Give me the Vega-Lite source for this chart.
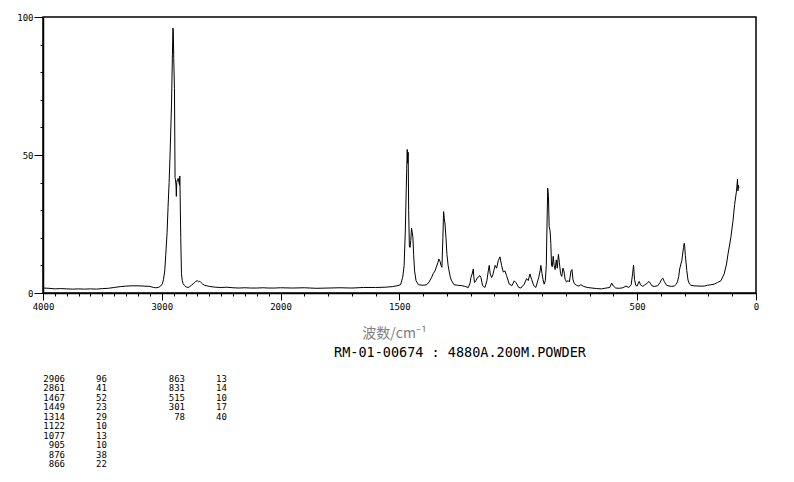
{
  "$schema": "https://vega.github.io/schema/vega-lite/v6.json",
  "padding": {"left": 15, "top": 12, "right": 5, "bottom": 5},
  "background": "white",
  "config": {
    "font": "DejaVu Sans Mono",
    "axis": {"domainColor": "black", "tickColor": "black", "labelColor": "black", "labelFont": "DejaVu Sans Mono", "labelFontSize": 9, "grid": false, "domainWidth": 1.5, "tickWidth": 1}
  },
  "spacing": 4,
  "vconcat": [
    {
      "width": 713,
      "height": 276,
      "view": {"stroke": "black", "strokeWidth": 1.5},
      "data": {"values": [
        {"wavenumber": 4000, "intensity": 1.8}, {"wavenumber": 3950, "intensity": 1.7}, {"wavenumber": 3900, "intensity": 1.5}, {"wavenumber": 3850, "intensity": 1.6},
        {"wavenumber": 3800, "intensity": 1.5}, {"wavenumber": 3750, "intensity": 1.4}, {"wavenumber": 3700, "intensity": 1.5}, {"wavenumber": 3650, "intensity": 1.4},
        {"wavenumber": 3600, "intensity": 1.5}, {"wavenumber": 3550, "intensity": 1.4}, {"wavenumber": 3500, "intensity": 1.6}, {"wavenumber": 3450, "intensity": 1.7},
        {"wavenumber": 3400, "intensity": 2.0}, {"wavenumber": 3350, "intensity": 2.3}, {"wavenumber": 3300, "intensity": 2.5}, {"wavenumber": 3250, "intensity": 2.6},
        {"wavenumber": 3200, "intensity": 2.6}, {"wavenumber": 3150, "intensity": 2.5}, {"wavenumber": 3100, "intensity": 2.4}, {"wavenumber": 3070, "intensity": 2.0},
        {"wavenumber": 3050, "intensity": 1.9}, {"wavenumber": 3030, "intensity": 2.0}, {"wavenumber": 3010, "intensity": 2.5}, {"wavenumber": 2995, "intensity": 3.3},
        {"wavenumber": 2985, "intensity": 5}, {"wavenumber": 2975, "intensity": 8}, {"wavenumber": 2966, "intensity": 14}, {"wavenumber": 2955, "intensity": 22},
        {"wavenumber": 2947, "intensity": 31}, {"wavenumber": 2938, "intensity": 40}, {"wavenumber": 2930, "intensity": 50}, {"wavenumber": 2918, "intensity": 68},
        {"wavenumber": 2910, "intensity": 86.5}, {"wavenumber": 2906, "intensity": 96}, {"wavenumber": 2903, "intensity": 95}, {"wavenumber": 2899, "intensity": 85},
        {"wavenumber": 2893, "intensity": 74}, {"wavenumber": 2888, "intensity": 41.8}, {"wavenumber": 2884, "intensity": 41}, {"wavenumber": 2880, "intensity": 39},
        {"wavenumber": 2877, "intensity": 35}, {"wavenumber": 2874, "intensity": 40}, {"wavenumber": 2868, "intensity": 41}, {"wavenumber": 2861, "intensity": 41.5},
        {"wavenumber": 2855, "intensity": 40}, {"wavenumber": 2850, "intensity": 39}, {"wavenumber": 2848, "intensity": 42.4}, {"wavenumber": 2846, "intensity": 38},
        {"wavenumber": 2840, "intensity": 20}, {"wavenumber": 2834, "intensity": 7}, {"wavenumber": 2827, "intensity": 4.5}, {"wavenumber": 2820, "intensity": 3.4},
        {"wavenumber": 2810, "intensity": 2.8}, {"wavenumber": 2795, "intensity": 2.2}, {"wavenumber": 2780, "intensity": 2.0}, {"wavenumber": 2765, "intensity": 2.3},
        {"wavenumber": 2750, "intensity": 2.8}, {"wavenumber": 2730, "intensity": 3.5}, {"wavenumber": 2715, "intensity": 4.2}, {"wavenumber": 2700, "intensity": 4.5},
        {"wavenumber": 2690, "intensity": 4.0}, {"wavenumber": 2680, "intensity": 4.3}, {"wavenumber": 2670, "intensity": 3.8}, {"wavenumber": 2657, "intensity": 3.3},
        {"wavenumber": 2640, "intensity": 2.8}, {"wavenumber": 2620, "intensity": 2.6}, {"wavenumber": 2600, "intensity": 2.4}, {"wavenumber": 2550, "intensity": 2.1},
        {"wavenumber": 2500, "intensity": 2.0}, {"wavenumber": 2450, "intensity": 2.1}, {"wavenumber": 2400, "intensity": 1.9}, {"wavenumber": 2350, "intensity": 1.8},
        {"wavenumber": 2300, "intensity": 1.9}, {"wavenumber": 2250, "intensity": 1.8}, {"wavenumber": 2200, "intensity": 1.8}, {"wavenumber": 2150, "intensity": 1.9},
        {"wavenumber": 2100, "intensity": 1.8}, {"wavenumber": 2050, "intensity": 1.8}, {"wavenumber": 2000, "intensity": 1.9}, {"wavenumber": 1950, "intensity": 1.8},
        {"wavenumber": 1900, "intensity": 1.9}, {"wavenumber": 1850, "intensity": 1.7}, {"wavenumber": 1800, "intensity": 1.8}, {"wavenumber": 1750, "intensity": 1.9},
        {"wavenumber": 1700, "intensity": 1.8}, {"wavenumber": 1650, "intensity": 2.0}, {"wavenumber": 1600, "intensity": 2.0}, {"wavenumber": 1560, "intensity": 2.1},
        {"wavenumber": 1530, "intensity": 2.3}, {"wavenumber": 1510, "intensity": 2.6}, {"wavenumber": 1495, "intensity": 3.0}, {"wavenumber": 1486, "intensity": 5.7},
        {"wavenumber": 1480, "intensity": 10}, {"wavenumber": 1475, "intensity": 22.5}, {"wavenumber": 1471, "intensity": 38}, {"wavenumber": 1469, "intensity": 45},
        {"wavenumber": 1467, "intensity": 52}, {"wavenumber": 1465, "intensity": 47}, {"wavenumber": 1463, "intensity": 51}, {"wavenumber": 1461, "intensity": 30},
        {"wavenumber": 1458, "intensity": 17}, {"wavenumber": 1455, "intensity": 16.5}, {"wavenumber": 1452, "intensity": 19}, {"wavenumber": 1449, "intensity": 23.5},
        {"wavenumber": 1446, "intensity": 22}, {"wavenumber": 1443, "intensity": 20}, {"wavenumber": 1440, "intensity": 14}, {"wavenumber": 1436, "intensity": 8},
        {"wavenumber": 1430, "intensity": 4.5}, {"wavenumber": 1420, "intensity": 3}, {"wavenumber": 1400, "intensity": 2.8}, {"wavenumber": 1385, "intensity": 3},
        {"wavenumber": 1375, "intensity": 4}, {"wavenumber": 1365, "intensity": 5.5}, {"wavenumber": 1358, "intensity": 7}, {"wavenumber": 1350, "intensity": 8},
        {"wavenumber": 1345, "intensity": 9.3}, {"wavenumber": 1338, "intensity": 11}, {"wavenumber": 1334, "intensity": 12.3}, {"wavenumber": 1329, "intensity": 11.5},
        {"wavenumber": 1325, "intensity": 10}, {"wavenumber": 1321, "intensity": 9.3}, {"wavenumber": 1317, "intensity": 20}, {"wavenumber": 1314, "intensity": 29.5},
        {"wavenumber": 1311, "intensity": 27}, {"wavenumber": 1308, "intensity": 25}, {"wavenumber": 1304, "intensity": 20}, {"wavenumber": 1300, "intensity": 14},
        {"wavenumber": 1295, "intensity": 10}, {"wavenumber": 1291, "intensity": 8}, {"wavenumber": 1285, "intensity": 5.5}, {"wavenumber": 1280, "intensity": 4.4},
        {"wavenumber": 1270, "intensity": 3}, {"wavenumber": 1255, "intensity": 2.8}, {"wavenumber": 1240, "intensity": 2.7}, {"wavenumber": 1225, "intensity": 2.4},
        {"wavenumber": 1210, "intensity": 2}, {"wavenumber": 1203, "intensity": 3.5}, {"wavenumber": 1199, "intensity": 5.6}, {"wavenumber": 1194, "intensity": 6.9},
        {"wavenumber": 1189, "intensity": 8.7}, {"wavenumber": 1187, "intensity": 6}, {"wavenumber": 1184, "intensity": 3.8}, {"wavenumber": 1178, "intensity": 4.5},
        {"wavenumber": 1171, "intensity": 5.6}, {"wavenumber": 1165, "intensity": 6}, {"wavenumber": 1161, "intensity": 6.3}, {"wavenumber": 1157, "intensity": 5.6},
        {"wavenumber": 1150, "intensity": 2.7}, {"wavenumber": 1140, "intensity": 2}, {"wavenumber": 1132, "intensity": 4.4}, {"wavenumber": 1126, "intensity": 8},
        {"wavenumber": 1122, "intensity": 10}, {"wavenumber": 1118, "intensity": 6.9}, {"wavenumber": 1112, "intensity": 5.6}, {"wavenumber": 1107, "intensity": 6.5},
        {"wavenumber": 1103, "intensity": 8}, {"wavenumber": 1097, "intensity": 10}, {"wavenumber": 1091, "intensity": 9}, {"wavenumber": 1084, "intensity": 11.7},
        {"wavenumber": 1077, "intensity": 13.1}, {"wavenumber": 1070, "intensity": 10}, {"wavenumber": 1063, "intensity": 7.6}, {"wavenumber": 1056, "intensity": 8},
        {"wavenumber": 1049, "intensity": 6.3}, {"wavenumber": 1038, "intensity": 3.2}, {"wavenumber": 1026, "intensity": 2.7}, {"wavenumber": 1017, "intensity": 4.4},
        {"wavenumber": 1010, "intensity": 3.8}, {"wavenumber": 998, "intensity": 2}, {"wavenumber": 989, "intensity": 1.8}, {"wavenumber": 975, "intensity": 3.2},
        {"wavenumber": 965, "intensity": 5.2}, {"wavenumber": 958, "intensity": 4.5}, {"wavenumber": 951, "intensity": 6.9}, {"wavenumber": 944, "intensity": 5},
        {"wavenumber": 935, "intensity": 2.7}, {"wavenumber": 926, "intensity": 2}, {"wavenumber": 914, "intensity": 5.6}, {"wavenumber": 908, "intensity": 8},
        {"wavenumber": 905, "intensity": 10}, {"wavenumber": 900, "intensity": 7}, {"wavenumber": 896, "intensity": 5}, {"wavenumber": 891, "intensity": 3.2},
        {"wavenumber": 886, "intensity": 4.5}, {"wavenumber": 882, "intensity": 10}, {"wavenumber": 879, "intensity": 25}, {"wavenumber": 876, "intensity": 38},
        {"wavenumber": 873, "intensity": 35}, {"wavenumber": 870, "intensity": 24}, {"wavenumber": 866, "intensity": 22.5}, {"wavenumber": 863, "intensity": 18},
        {"wavenumber": 860, "intensity": 10}, {"wavenumber": 857, "intensity": 9.5}, {"wavenumber": 853, "intensity": 13.3}, {"wavenumber": 849, "intensity": 10},
        {"wavenumber": 845, "intensity": 8.5}, {"wavenumber": 840, "intensity": 12}, {"wavenumber": 836, "intensity": 9}, {"wavenumber": 831, "intensity": 14},
        {"wavenumber": 827, "intensity": 11}, {"wavenumber": 822, "intensity": 7}, {"wavenumber": 817, "intensity": 6}, {"wavenumber": 812, "intensity": 9},
        {"wavenumber": 808, "intensity": 8}, {"wavenumber": 803, "intensity": 5}, {"wavenumber": 797, "intensity": 4}, {"wavenumber": 790, "intensity": 4.5},
        {"wavenumber": 785, "intensity": 4}, {"wavenumber": 778, "intensity": 8}, {"wavenumber": 774, "intensity": 8.5}, {"wavenumber": 770, "intensity": 5},
        {"wavenumber": 765, "intensity": 3.5}, {"wavenumber": 755, "intensity": 2.8}, {"wavenumber": 745, "intensity": 2.5}, {"wavenumber": 737, "intensity": 3},
        {"wavenumber": 725, "intensity": 2.4}, {"wavenumber": 710, "intensity": 2}, {"wavenumber": 690, "intensity": 1.8}, {"wavenumber": 670, "intensity": 1.6},
        {"wavenumber": 650, "intensity": 1.5}, {"wavenumber": 630, "intensity": 1.8}, {"wavenumber": 615, "intensity": 2}, {"wavenumber": 607, "intensity": 3.6},
        {"wavenumber": 600, "intensity": 2.5}, {"wavenumber": 590, "intensity": 1.8}, {"wavenumber": 575, "intensity": 1.7}, {"wavenumber": 560, "intensity": 1.9},
        {"wavenumber": 547, "intensity": 2.5}, {"wavenumber": 535, "intensity": 2}, {"wavenumber": 525, "intensity": 3}, {"wavenumber": 519, "intensity": 7},
        {"wavenumber": 515, "intensity": 10.1}, {"wavenumber": 511, "intensity": 5}, {"wavenumber": 506, "intensity": 2.8}, {"wavenumber": 500, "intensity": 2.5},
        {"wavenumber": 495, "intensity": 3.5}, {"wavenumber": 491, "intensity": 4.2}, {"wavenumber": 486, "intensity": 3}, {"wavenumber": 477, "intensity": 2.4},
        {"wavenumber": 470, "intensity": 2.8}, {"wavenumber": 463, "intensity": 3.2}, {"wavenumber": 455, "intensity": 3.8}, {"wavenumber": 450, "intensity": 4.2},
        {"wavenumber": 445, "intensity": 3.6}, {"wavenumber": 438, "intensity": 2.6}, {"wavenumber": 428, "intensity": 2.4}, {"wavenumber": 414, "intensity": 2.6},
        {"wavenumber": 404, "intensity": 3.7}, {"wavenumber": 397, "intensity": 5}, {"wavenumber": 392, "intensity": 5.4}, {"wavenumber": 386, "intensity": 4.2},
        {"wavenumber": 378, "intensity": 3}, {"wavenumber": 370, "intensity": 2.6}, {"wavenumber": 355, "intensity": 2.4}, {"wavenumber": 344, "intensity": 2.5},
        {"wavenumber": 335, "intensity": 3.2}, {"wavenumber": 330, "intensity": 4.2}, {"wavenumber": 325, "intensity": 6}, {"wavenumber": 321, "intensity": 8.7},
        {"wavenumber": 316, "intensity": 10.5}, {"wavenumber": 312, "intensity": 11.7}, {"wavenumber": 305, "intensity": 16.5}, {"wavenumber": 302, "intensity": 18},
        {"wavenumber": 300, "intensity": 17}, {"wavenumber": 297, "intensity": 13.5}, {"wavenumber": 291, "intensity": 8.1}, {"wavenumber": 286, "intensity": 4.7},
        {"wavenumber": 280, "intensity": 3.3}, {"wavenumber": 274, "intensity": 2.8}, {"wavenumber": 260, "intensity": 2.6}, {"wavenumber": 240, "intensity": 2.5},
        {"wavenumber": 218, "intensity": 2.5}, {"wavenumber": 204, "intensity": 2.8}, {"wavenumber": 190, "intensity": 3}, {"wavenumber": 176, "intensity": 3.2},
        {"wavenumber": 162, "intensity": 3.8}, {"wavenumber": 148, "intensity": 4.4}, {"wavenumber": 134, "intensity": 6.9}, {"wavenumber": 124, "intensity": 10.5},
        {"wavenumber": 118, "intensity": 14}, {"wavenumber": 106, "intensity": 20}, {"wavenumber": 97, "intensity": 26}, {"wavenumber": 90, "intensity": 32},
        {"wavenumber": 82, "intensity": 37}, {"wavenumber": 79, "intensity": 40}, {"wavenumber": 78, "intensity": 41.2}, {"wavenumber": 76, "intensity": 37},
        {"wavenumber": 74, "intensity": 39}, {"wavenumber": 72, "intensity": 38}
      ]},
      "mark": {"type": "line", "color": "black", "strokeWidth": 1},
      "encoding": {
        "x": {
          "field": "wavenumber", "type": "quantitative",
          "scale": {"domain": [4000, 2000, 0], "range": [0, 237.5, 713], "nice": false, "zero": false},
          "axis": {
            "values": [4000,3900,3800,3700,3600,3500,3400,3300,3200,3100,3000,2900,2800,2700,2600,2500,2400,2300,2200,2100,2000,1900,1800,1700,1600,1500,1400,1300,1200,1100,1000,900,800,700,600,500,400,300,200,100,0],
            "labelExpr": "indexof([4000,3000,2000,1500,500,0], datum.value) >= 0 ? '' + datum.value : ''",
            "tickSize": {"condition": {"test": "indexof([4000,3000,2000,1500,500,0], datum.value) >= 0", "value": 7}, "value": 3},
            "labelFlush": false, "labelOverlap": false, "labelPadding": 2,
            "title": "波数/cm⁻¹", "titleFont": "Noto Sans CJK SC", "titleFontSize": 14, "titleFontWeight": "normal",
            "titleColor": "#808080", "titleX": 351, "titleY": 40, "titleBaseline": "middle", "titleAlign": "center"
          }
        },
        "y": {
          "field": "intensity", "type": "quantitative",
          "scale": {"domain": [0, 100], "nice": false},
          "axis": {
            "values": [0,10,20,30,40,50,60,70,80,90,100],
            "labelExpr": "datum.value % 50 === 0 ? '' + datum.value : ''",
            "tickSize": {"condition": {"test": "datum.value % 50 === 0", "value": 9}, "value": 3},
            "labelPadding": 1, "labelOverlap": false, "labelFlush": false, "title": null
          }
        }
      }
    },
    {
      "width": 200,
      "height": 85,
      "view": {"stroke": null},
      "title": {"text": "RM-01-00674 : 4880A.200M.POWDER", "anchor": "start", "dx": 291, "font": "DejaVu Sans Mono", "fontSize": 13.5, "fontWeight": "normal", "color": "black", "offset": 16},
      "data": {"values": [
        {"wavenumber": 2906, "intensity": 96, "column": 1}, {"wavenumber": 2861, "intensity": 41, "column": 1},
        {"wavenumber": 1467, "intensity": 52, "column": 1}, {"wavenumber": 1449, "intensity": 23, "column": 1},
        {"wavenumber": 1314, "intensity": 29, "column": 1}, {"wavenumber": 1122, "intensity": 10, "column": 1},
        {"wavenumber": 1077, "intensity": 13, "column": 1}, {"wavenumber": 905, "intensity": 10, "column": 1},
        {"wavenumber": 876, "intensity": 38, "column": 1}, {"wavenumber": 866, "intensity": 22, "column": 1},
        {"wavenumber": 863, "intensity": 13, "column": 2}, {"wavenumber": 831, "intensity": 14, "column": 2},
        {"wavenumber": 515, "intensity": 10, "column": 2}, {"wavenumber": 301, "intensity": 17, "column": 2},
        {"wavenumber": 78, "intensity": 40, "column": 2}
      ]},
      "transform": [{"window": [{"op": "row_number", "as": "row"}], "groupby": ["column"], "sort": [{"field": "wavenumber", "order": "descending"}]}],
      "encoding": {
        "x": {"field": "column", "type": "quantitative", "scale": {"domain": [1, 2], "range": [22, 142]}, "axis": null},
        "y": {"field": "row", "type": "quantitative", "scale": {"domain": [1, 10], "range": [0, 85]}, "axis": null}
      },
      "layer": [
        {"mark": {"type": "text", "align": "right", "baseline": "middle", "fontSize": 9, "font": "DejaVu Sans Mono", "color": "black"},
         "encoding": {"text": {"field": "wavenumber", "type": "quantitative", "format": "d"}}},
        {"mark": {"type": "text", "align": "left", "baseline": "middle", "dx": 31, "fontSize": 9, "font": "DejaVu Sans Mono", "color": "black"},
         "encoding": {"text": {"field": "intensity", "type": "quantitative", "format": "d"}}}
      ]
    }
  ]
}
